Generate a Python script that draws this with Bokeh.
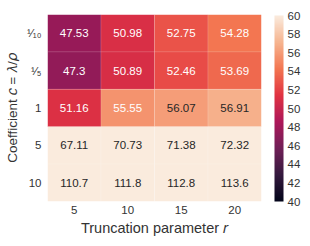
from bokeh.plotting import figure
from bokeh.models import (ColumnDataSource, LinearColorMapper, ColorBar, FixedTicker,
                          FactorRange)
from bokeh.transform import transform
from bokeh.core.properties import value
from bokeh.embed import file_html
from bokeh.resources import INLINE

# ---- data ----
r_labels = ["5", "10", "15", "20"]
c_labels = ["¹⁄₁₀", "¹⁄₅", "1", "5", "10"]
vals_c_1_10 = [47.53, 50.98, 52.75, 54.28]
vals_c_1_5 = [47.3, 50.89, 52.46, 53.69]
vals_c_1 = [51.16, 55.55, 56.07, 56.91]
vals_c_5 = [67.11, 70.73, 71.38, 72.32]
vals_c_10 = [110.7, 111.8, 112.8, 113.6]
rows = [vals_c_1_10, vals_c_1_5, vals_c_1, vals_c_5, vals_c_10]
cbar_ticks = [40, 42, 44, 46, 48, 50, 52, 54, 56, 58, 60]
vmin, vmax = 40, 60

# ---- rocket-like colormap ----
stops = [(0.0, "#03051a"), (1/7, "#35193e"), (2/7, "#701f57"), (3/7, "#ad1759"),
         (4/7, "#e13342"), (5/7, "#f37651"), (6/7, "#f6b48f"), (1.0, "#faebdd")]

def hex2rgb(h):
    return tuple(int(h[i:i + 2], 16) for i in (1, 3, 5))

def cmap(t):
    t = min(max(t, 0.0), 1.0)
    for (t0, c0), (t1, c1) in zip(stops[:-1], stops[1:]):
        if t <= t1:
            f = (t - t0) / (t1 - t0)
            a, b = hex2rgb(c0), hex2rgb(c1)
            return tuple(a[k] + (b[k] - a[k]) * f for k in range(3))
    return hex2rgb(stops[-1][1])

palette = ["#%02x%02x%02x" % tuple(int(round(v)) for v in cmap(i / 255)) for i in range(256)]

def lum(rgb):
    out = []
    for v in rgb:
        v = v / 255
        out.append(v / 12.92 if v <= 0.03928 else ((v + 0.055) / 1.055) ** 2.4)
    return 0.2126 * out[0] + 0.7152 * out[1] + 0.0722 * out[2]

xs, ys, vs, txt, tcol = [], [], [], [], []
for cl, row in zip(c_labels, rows):
    for rl, v in zip(r_labels, row):
        xs.append(rl)
        ys.append(cl)
        vs.append(v)
        txt.append(f"{v:.4g}")
        tcol.append("#262626" if lum(cmap((v - vmin) / (vmax - vmin))) > 0.408 else "#ffffff")

src = ColumnDataSource(dict(x=xs, y=ys, v=vs, t=txt, tc=tcol))

mapper = LinearColorMapper(palette=palette, low=vmin, high=vmax,
                           high_color=palette[-1], low_color=palette[0])

p = figure(frame_width=214, frame_height=187, output_backend="svg", toolbar_location=None,
           x_range=FactorRange(*r_labels), y_range=FactorRange(*reversed(c_labels)),
           min_border_left=47, min_border_top=14, min_border_bottom=44, min_border_right=48)
p.x_range.range_padding = 0
p.y_range.range_padding = 0

p.rect(x="x", y="y", width=1, height=1, source=src,
       fill_color=transform("v", mapper), line_color="white", line_alpha=0.25, line_width=0.5)
p.text(x="x", y="y", text="t", source=src, text_color="tc",
       text_align="center", text_baseline="middle",
       text_font=value("Liberation Sans"), text_font_size="11.5px")

p.outline_line_color = None
p.grid.grid_line_color = None
for ax in (p.xaxis, p.yaxis):
    ax.axis_line_color = None
    ax.major_tick_line_color = None
    ax.minor_tick_line_color = None
    ax.major_tick_out = 0
    ax.major_tick_in = 0
    ax.minor_tick_out = 0
    ax.major_label_text_font = "Liberation Sans"
    ax.major_label_text_font_size = "11.5px"
    ax.major_label_text_color = "#333333"
    ax.axis_label_text_font = "Liberation Sans"
    ax.axis_label_text_font_style = "normal"
    ax.axis_label_text_color = "#333333"

p.xaxis.axis_label_text_font_size = "14.5px"
p.yaxis.axis_label_text_font_size = "13.5px"
p.xaxis.axis_label = "Truncation parameter 𝑟"
p.yaxis.axis_label = "Coefficient 𝑐 = 𝜆/𝜌"
p.xaxis.major_label_standoff = 4
p.yaxis.major_label_standoff = 6
p.xaxis.axis_label_standoff = 3
p.yaxis.axis_label_standoff = 4

cb = ColorBar(color_mapper=mapper, ticker=FixedTicker(ticks=cbar_ticks), width=9, height=186,
              padding=0, margin=0, location=(13, 0), bar_line_color=None,
              major_tick_line_color=None, minor_tick_line_color=None,
              major_tick_out=0, major_tick_in=0,
              major_label_text_font="Liberation Sans",
              major_label_text_font_size="11.5px", major_label_text_color="#333333",
              border_line_color=None, background_fill_color=None, label_standoff=4)
p.add_layout(cb, "right")

open("out.html", "w").write(file_html(p, INLINE))
